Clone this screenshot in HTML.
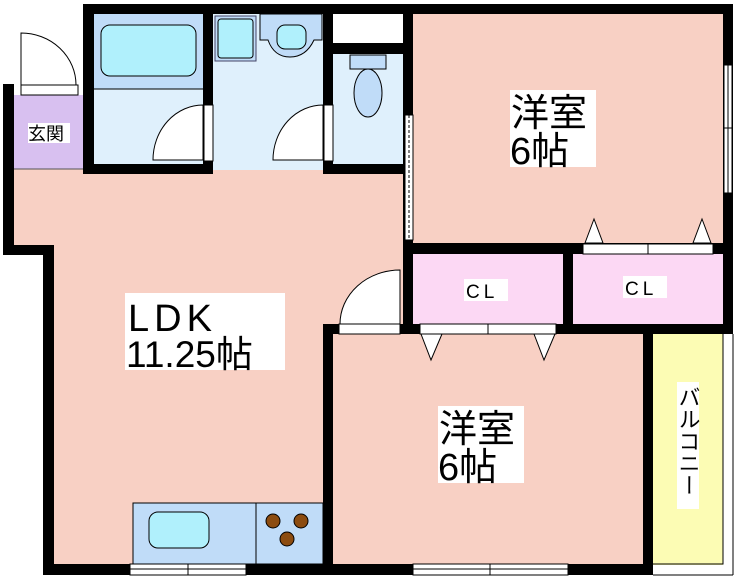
<!DOCTYPE html>
<html><head><meta charset="utf-8"><style>
html,body{margin:0;padding:0;background:#fff}
svg{display:block}
text{font-family:"Liberation Sans","Noto Sans CJK JP",sans-serif;fill:#000}
</style></head><body>
<svg width="740" height="582" viewBox="0 0 740 582" xmlns="http://www.w3.org/2000/svg">
<rect x="14" y="165" width="392" height="400" fill="#f8d0c4"/>
<rect x="14" y="255" width="40" height="320" fill="#fff"/>
<rect x="14" y="95" width="69" height="74" fill="#d8c0f0"/>
<line x1="14" y1="169" x2="83" y2="169" stroke="#555" stroke-width="1"/>
<rect x="94" y="14" width="109" height="75" fill="#c0dcf8"/>
<rect x="94" y="89" width="109" height="76" fill="#dff0fc"/>
<line x1="94" y1="89" x2="203" y2="89" stroke="#000" stroke-width="1"/>
<rect x="213" y="14" width="110" height="156" fill="#dff0fc"/>
<rect x="333" y="54" width="70" height="110" fill="#dff0fc"/>
<rect x="333" y="14" width="70" height="30" fill="#fff"/>
<rect x="413" y="14" width="310" height="230" fill="#f8d0c4"/>
<rect x="413" y="254" width="150" height="70" fill="#fcd8f4"/>
<rect x="573" y="254" width="150" height="70" fill="#fcd8f4"/>
<rect x="333" y="334" width="310" height="230" fill="#f8d0c4"/>
<rect x="653" y="334" width="70" height="231" fill="#fcfcb4"/>
<polyline points="653,564 723,564 723,334" fill="none" stroke="#000" stroke-width="1"/>
<line x1="733" y1="334" x2="733" y2="575" stroke="#000" stroke-width="1"/>
<line x1="653" y1="575" x2="733" y2="575" stroke="#000" stroke-width="1"/>
<rect x="101" y="25" width="95" height="51" rx="9" fill="#b0f0fc" stroke="#000"/>
<rect x="215" y="16" width="41" height="45" fill="#c0dcf8" stroke="#446"/>
<rect x="218" y="19" width="35" height="39" rx="3" fill="#b0f0fc" stroke="#000"/>
<path d="M260 14 H322 V40 H314 Q306 57 290 57 Q274 57 268 40 H260 Z" fill="#c0dcf8" stroke="#000"/>
<rect x="277" y="25" width="29" height="24" rx="8" fill="#b0f0fc" stroke="#000"/>
<rect x="350" y="55" width="36" height="14" fill="#c0dcf8" stroke="#000"/>
<ellipse cx="368" cy="93" rx="14" ry="24" fill="#c0dcf8" stroke="#000"/>
<rect x="133" y="503" width="190" height="61" fill="#c0dcf8" stroke="#000"/>
<line x1="256" y1="503" x2="256" y2="564" stroke="#000"/>
<rect x="149" y="512" width="60" height="36" rx="9" fill="#b0f0fc" stroke="#000"/>
<g fill="#8c4c10" stroke="#000"><circle cx="273" cy="521" r="7"/><circle cx="301" cy="521" r="7"/><circle cx="287" cy="539" r="7"/></g>
<g fill="#000">
<rect x="83" y="4" width="650" height="10"/>
<rect x="83" y="4" width="11" height="170"/>
<rect x="83" y="164" width="130" height="10"/>
<rect x="203" y="4" width="10" height="170"/>
<rect x="323" y="4" width="10" height="170"/>
<rect x="323" y="164" width="90" height="10"/>
<rect x="333" y="43" width="70" height="11"/>
<rect x="403" y="4" width="10" height="330"/>
<rect x="723" y="4" width="10" height="330"/>
<rect x="403" y="243" width="330" height="11"/>
<rect x="403" y="324" width="330" height="10"/>
<rect x="563" y="243" width="10" height="91"/>
<rect x="323" y="324" width="90" height="10"/>
<rect x="323" y="324" width="10" height="251"/>
<rect x="643" y="324" width="10" height="251"/>
<rect x="3" y="84" width="11" height="171"/>
<rect x="3" y="245" width="50" height="10"/>
<rect x="43" y="245" width="11" height="330"/>
<rect x="43" y="564" width="610" height="11"/>
</g>
<g fill="#fff" stroke="#000" stroke-width="1">
<rect x="21" y="85" width="57" height="10"/>
<rect x="204" y="105" width="9" height="56"/>
<rect x="324" y="105" width="9" height="56"/>
<rect x="339" y="324" width="61" height="10"/>
<rect x="420" y="324" width="136" height="10"/>
<rect x="583" y="244" width="130" height="10"/>
<rect x="405" y="115" width="8" height="125"/>
<rect x="724" y="65" width="8" height="128"/>
<rect x="130" y="564" width="116" height="11"/>
<rect x="413" y="564" width="155" height="11"/>
</g>
<g stroke="#000" stroke-width="1" fill="none">
<line x1="488" y1="324" x2="488" y2="334"/>
<line x1="648" y1="244" x2="648" y2="254"/>
<line x1="130" y1="569" x2="246" y2="569"/>
<line x1="188" y1="564" x2="188" y2="575"/>
<line x1="413" y1="569" x2="568" y2="569"/>
<line x1="490" y1="564" x2="490" y2="575"/>
<line x1="728" y1="65" x2="728" y2="193"/>
<line x1="724" y1="128" x2="732" y2="128"/>
<line x1="409" y1="115" x2="409" y2="240" stroke-dasharray="3,2"/>
</g>
<g fill="#fff" stroke="#000" stroke-width="1">
<path d="M21 85 V33 A55 52 0 0 1 76 85 Z"/>
<path d="M203 160 H153 A50 55 0 0 1 203 105 Z"/>
<path d="M323 160 H273 A50 55 0 0 1 323 105 Z"/>
<path d="M400 324 H340 A60 54 0 0 1 400 270 Z"/>
<path d="M421 334 L442 334 L431 360 Z"/>
<path d="M534 334 L555 334 L544 360 Z"/>
<path d="M585 243 L603 243 L594 219 Z"/>
<path d="M693 243 L711 243 L702 219 Z"/>
</g>
<rect x="125" y="293" width="160" height="77" fill="#fff"/>
<text x="128" y="331" font-size="38" letter-spacing="5">LDK</text>
<text x="126" y="367" font-size="37" letter-spacing="0">11.25帖</text>
<rect x="510" y="90" width="86" height="77" fill="#fff"/>
<text x="511" y="126" font-size="38">洋室</text>
<text x="510" y="164" font-size="38">6帖</text>
<rect x="438" y="406" width="86" height="77" fill="#fff"/>
<text x="439" y="442" font-size="38">洋室</text>
<text x="438" y="480" font-size="38">6帖</text>
<rect x="464" y="279" width="44" height="22" fill="#fff"/>
<text x="466" y="298" font-size="19" letter-spacing="4">CL</text>
<rect x="623" y="276" width="44" height="22" fill="#fff"/>
<text x="625" y="295" font-size="19" letter-spacing="4">CL</text>
<rect x="28" y="123" width="42" height="20" fill="#fff"/>
<text x="28" y="140" font-size="18">玄関</text>
<rect x="677" y="382" width="22" height="127" fill="#fff"/>
<text x="688" y="386" font-size="22" style="writing-mode:vertical-rl">バルコニー</text>
</svg>
</body></html>
